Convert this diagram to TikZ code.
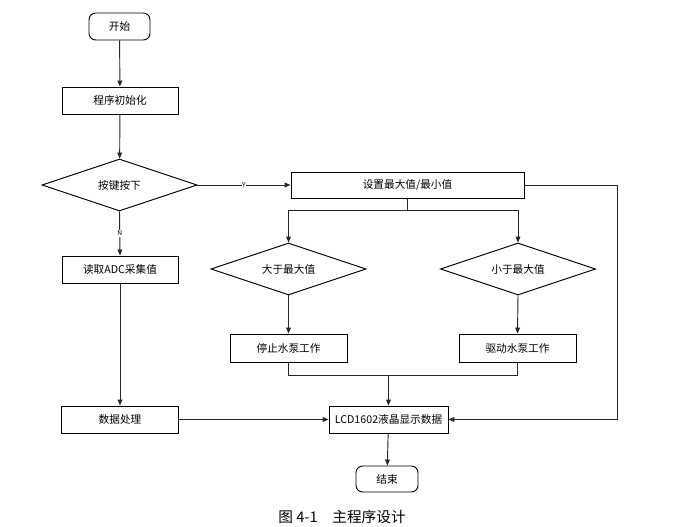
\documentclass[tikz,border=0pt]{standalone}
\usepackage{fontspec}
\setmainfont{Noto Sans CJK SC}
\usetikzlibrary{shapes.geometric,arrows.meta}
\begin{document}
\begin{tikzpicture}[x=0.75pt,y=-0.75pt,
  every node/.style={font=\fontsize{8pt}{9pt}\selectfont, inner sep=0pt},
  proc/.style={draw=black, line width=0.7pt, rectangle, minimum width=87pt, minimum height=20.25pt},
  term/.style={draw=black, line width=0.7pt, rectangle, rounded corners=5pt, minimum height=20.25pt},
  dec/.style={draw=black, line width=0.7pt, diamond, aspect=3, minimum width=116.25pt, minimum height=39pt},
  conn/.style={draw=black!85, line width=0.7pt},
  arr/.style={conn, -{Triangle[length=4.5pt,width=3.6pt]}},
  lbl/.style={font=\fontsize{5pt}{6pt}\selectfont, fill=white, inner sep=0.5pt}
]
\useasboundingbox (0,0) rectangle (673,527);
\node[term, minimum width=45.75pt] (start) at (119.5,26.5) {开始};
\node[proc] (init) at (120,100.5) {程序初始化};
\node[dec] (key) at (119.5,185) {按键按下};
\node[proc, minimum width=174.75pt, minimum height=19.5pt] (set) at (407.5,185) {设置最大值/最小值};
\node[dec] (big) at (288.5,269) {大于最大值};
\node[dec] (small) at (518,269) {小于最大值};
\node[proc] (adc) at (120,269.5) {读取ADC采集值};
\node[proc, minimum width=87.75pt, minimum height=21pt] (stop) at (288.5,348) {停止水泵工作};
\node[proc, minimum width=87.75pt, minimum height=21pt] (drive) at (517.5,348) {驱动水泵工作};
\node[proc, minimum width=87.75pt] (data) at (120,419.5) {数据处理};
\node[proc, minimum width=89.25pt] (lcd) at (388.5,419.5) {LCD1602液晶显示数据};
\node[term, minimum width=46.5pt, minimum height=19.5pt] (end) at (387,479) {结束};
\node[font=\fontsize{11pt}{13pt}\selectfont] (cap) at (342,517) {图 4-1\quad 主程序设计};

\coordinate (split) at (407.5,210);
\coordinate (merge) at (388.5,375);
\coordinate (rt) at (617,185);

\draw[arr] (start) -- (init);
\draw[arr] (init) -- (key);
\draw[arr] (key.east) -- node[lbl]{Y} (set.west);
\draw[arr] (key.south) -- node[lbl]{N} (adc.north);
\draw[conn] (set.south) -- (split);
\draw[arr] (split) -| (big.north);
\draw[arr] (split) -| (small.north);
\draw[arr] (big.south) -- (stop.north);
\draw[arr] (small.south) -- (drive.north);
\draw[conn] (stop.south) |- (merge);
\draw[conn] (drive.south) |- (merge);
\draw[arr] (merge) -- (lcd.north);
\draw[arr] (adc) -- (data);
\draw[arr] (data) -- (lcd);
\draw[arr] (set.east) -- (rt) |- (lcd.east);
\draw[arr] (lcd) -- (end);
\end{tikzpicture}
\end{document}
